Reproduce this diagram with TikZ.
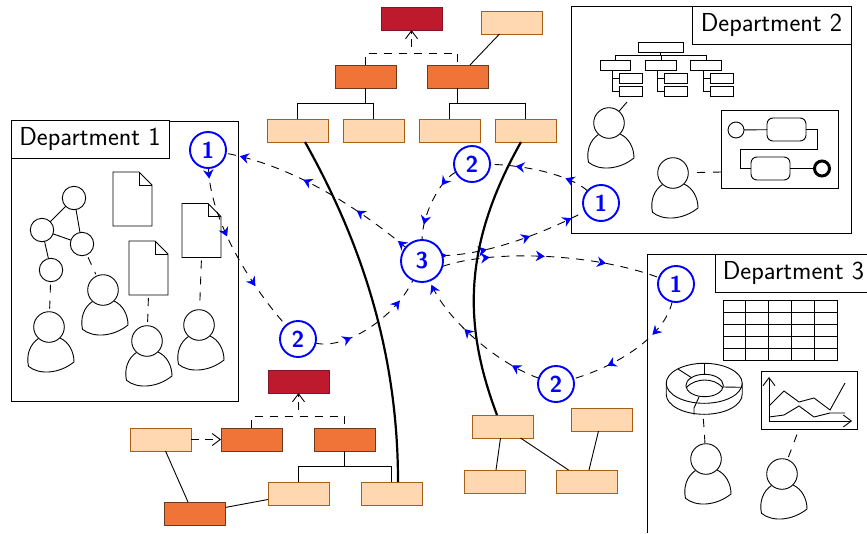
\documentclass[tikz,border=0pt]{standalone}
\usetikzlibrary{arrows.meta,decorations.markings,backgrounds}
\definecolor{peachfill}{HTML}{FFD8B2}
\definecolor{peachedge}{HTML}{A85F14}
\definecolor{orangefill}{HTML}{F07438}
\definecolor{orangeedge}{HTML}{6E3A1E}
\definecolor{redfill}{HTML}{BE1A2E}
\definecolor{rededge}{HTML}{8A1030}
\tikzset{
  base/.style={inner sep=0pt,outer sep=0pt,line width=.9pt},
  bx/.style={base,draw,minimum width=61pt,minimum height=23pt},
  peach/.style={bx,fill=peachfill,draw=peachedge},
  orng/.style={bx,fill=orangefill,draw=orangeedge},
  crim/.style={bx,fill=redfill,draw=rededge},
  deptlabel/.style={base,draw,fill=white,font=\fontsize{26}{30}\selectfont\sffamily,minimum height=38pt},
  badge/.style={base,circle,draw=blue,fill=white,text=blue,line width=1.9pt,minimum size=36pt,font=\fontsize{23}{26}\selectfont\sffamily\bfseries},
  badgebig/.style={badge,minimum size=42pt},
  head/.style={base,circle,draw,fill=white,minimum size=30.6pt},
  ln/.style={line width=.9pt},
  tie/.style={ln,dash pattern=on 8pt off 8pt,shorten <=3pt,shorten >=2pt},
  dashtree/.style={ln,dash pattern=on 8pt off 7pt},
  openhead/.style={-{Straight Barb[length=8pt,width=12pt,line width=.9pt]}},
  thickcurve/.style={line width=2.2pt},
  gnode/.style={base,circle,draw,fill=white,minimum size=23.4pt},
  docshape/.style={base,minimum width=39pt,minimum height=54pt},
  orgbox/.style={base,draw,fill=white},
  flow/.style={ln,dash pattern=on 8pt off 7pt},
  tipat/.style={postaction={decorate,decoration={markings,mark=at position #1 with {\arrow{Stealth[length=9pt,width=10.5pt,inset=3pt,color=blue,fill=blue]}}}}},
}
\newcommand\person[3]{%
  \node[head] (#1) at (#2,#3) {};
  \draw[ln,shift={(#1.center)}] (-10.5,11.5) .. controls (-19,17) and (-23,28) .. (-20.5,39.3)
    .. controls (-10,48) and (10,47) .. (25,35) .. controls (25,25) and (20,15) .. (11,11);}
\newcommand\docu[3]{%
  \node[docshape] (#1) at (#2,#3) {};
  \draw[ln] (#1.north west) -- ([xshift=-13pt]#1.north east) -- ([yshift=-13pt]#1.north east)
    -- (#1.south east) -- (#1.south west) -- cycle;
  \draw[ln] ([xshift=-13pt]#1.north east) -- ++(0,13) -- ([yshift=-13pt]#1.north east);}
\begin{document}
\begin{tikzpicture}[x=1pt,y=-1pt]
\useasboundingbox (0,0) rectangle (867,533);

% departments
\node[base,draw,minimum width=227pt,minimum height=280pt] (dA) at (124.5,261) {};
\node[deptlabel,minimum width=158pt] (dAl) at (90,139.5) {Department 1};
\node[base,draw,minimum width=280pt,minimum height=227pt] (dB) at (711,119.5) {};
\node[deptlabel,minimum width=159pt] (dBl) at (771.5,25) {Department 2};
\draw[ln] (867,254) -- (647,254) -- (647,533);
\node[deptlabel,minimum width=156pt] (dCl) at (793.5,273) {Department 3};

% top tree
\node[crim] (tred) at (411.5,18.5) {};
\node[peach] (tp) at (512,22.5) {};
\node[orng] (to1) at (365.5,76.5) {};
\node[orng] (to2) at (457.5,76.5) {};
\node[peach] (t1) at (297.5,130.5) {};
\node[peach] (t2) at (373.5,130.5) {};
\node[peach] (t3) at (449.5,130.5) {};
\node[peach] (t4) at (525.5,130.5) {};
\draw[dashtree] (to1.north) |- (411.5,53) -| (to2.north);
\coordinate (tjoin) at (411.5,47);
\draw[ln,dash pattern=on 8pt off 5pt,openhead] (tjoin) -- (tred.south);
\draw[ln] ([xshift=-12.5pt]tp.south) -- ([xshift=12.5pt]to2.north);
\draw[ln] (to1.south) -- ++(0,15) -| (t1.north);
\draw[ln] (to1.south) -- ++(0,15) -| (t2.north);
\draw[ln] (to2.south) -- ++(0,15) -| (t3.north);
\draw[ln] (to2.south) -- ++(0,15) -| (t4.north);

% bottom tree
\node[crim] (bred) at (298.5,381.5) {};
\node[peach] (bp) at (160.5,439.5) {};
\node[orng] (bo1) at (251.5,439.5) {};
\node[orng] (bo2) at (344.5,439.5) {};
\node[peach] (b3) at (298.5,493.5) {};
\node[peach] (b4) at (391.5,493.5) {};
\node[orng] (bo3) at (194.5,513.5) {};
\draw[dashtree] (bo1.north) |- (298,416) -| (bo2.north);
\coordinate (bjoin) at (298.5,410);
\draw[ln,dash pattern=on 8pt off 5pt,openhead] (bjoin) -- (bred.south);
\draw[ln,dash pattern=on 8pt off 6pt,openhead] (bp.east) -- (bo1.west);
\draw[ln] ([xshift=5pt]bp.south) -- ([xshift=-6.5pt]bo3.north);
\draw[ln] ([yshift=6pt]bo3.east) -- ([yshift=-6pt]b3.west);
\draw[ln] (bo2.south) -- ++(0,15) -| (b3.north);
\draw[ln] (bo2.south) -- ++(0,15) -| (b4.north);

% right-bottom group
\node[peach] (r1) at (502.5,426.5) {};
\node[peach] (r2) at (601.5,419.5) {};
\node[peach] (r3) at (494.5,481.5) {};
\node[peach] (r4) at (586.5,481.5) {};
\draw[ln] ([xshift=-2pt]r1.south) -- ([xshift=1.5pt]r3.north);
\draw[ln] ([xshift=18pt]r1.south) -- ([xshift=-18pt]r4.north);
\draw[ln] ([xshift=-3pt]r2.south) -- ([xshift=2.5pt]r4.north);

% thick links
\draw[thickcurve] ([xshift=7.5pt]t1.south) .. controls (360,240) and (398,350) .. ([xshift=6.5pt]b4.north);
\draw[thickcurve] ([xshift=-4.5pt]t4.south) .. controls (460,250) and (465,330) .. ([xshift=-5.5pt]r1.north);

% badges
\node[badge] (a1) at (208,150) {1};
\node[badge] (a2) at (298,339) {2};
\node[badge] (b1) at (601,203) {1};
\node[badge] (b2) at (472,164) {2};
\node[badge] (c1) at (676,284) {1};
\node[badge] (c2) at (556,384) {2};
\node[badgebig] (mid) at (422,261) {3};

\begin{pgfonlayer}{background}
\draw[flow,tipat=.05,tipat=.3,tipat=.6,tipat=.93] (mid) .. controls (355,205) and (290,165) .. (a1);
\draw[flow,tipat=.06,tipat=.4,tipat=.72] (a1) .. controls (210,220) and (250,285) .. (a2);
\draw[flow,tipat=.3,tipat=.8] (a2) .. controls (345,350) and (395,318) .. (mid);
\draw[flow,tipat=.03,tipat=.3,tipat=.6,tipat=.9] (mid.15) .. controls (485,255) and (540,235) .. (b1);
\draw[flow,tipat=.22,tipat=.47,tipat=.75] (mid.-15) .. controls (490,250) and (590,252) .. (c1);
\draw[flow,tipat=.25,tipat=.75] (b1) .. controls (570,175) and (525,165) .. (b2);
\draw[flow,tipat=.25,tipat=.8] (b2) .. controls (440,180) and (422,215) .. (mid);
\draw[flow,tipat=.3,tipat=.72] (c1) .. controls (665,335) and (620,365) .. (c2);
\draw[flow,tipat=.2,tipat=.6,tipat=.97] (c2) .. controls (500,365) and (445,320) .. (mid);
\end{pgfonlayer}

% department 1 content
\node[gnode] (g1) at (74,198) {};
\node[gnode] (g2) at (42,230) {};
\node[gnode] (g3) at (82,244) {};
\node[gnode] (g4) at (51,270) {};
\draw[ln] (g1) -- (g2);
\draw[ln] (g1) -- (g3);
\draw[ln] (g2) -- (g3);
\draw[ln] (g2) -- (g4);
\docu{d1}{132.5}{199}
\docu{d2}{148.5}{268}
\docu{d3}{201.5}{230.5}
\person{p1}{49}{327}
\person{p2}{103}{290}
\person{p3}{147}{341}
\person{p4}{199}{325}
\draw[tie] (g4) -- (p1);
\draw[tie] (g3) -- (p2);
\draw[tie] (d2.south) -- (p3);
\draw[tie] (d3.south) -- (p4);

% department 2 content
\node[orgbox,minimum width=45pt,minimum height=10pt] (o0) at (660.5,47) {};
\foreach \n/\cx/\sx/\lx in {1/615.5/630.5/612.7,2/661/676/657.7,3/706/721.5/703}{
  \node[orgbox,minimum width=30.5pt,minimum height=10pt] (om\n) at (\cx,65.5) {};
  \node[orgbox,minimum width=23pt,minimum height=10pt] (oa\n) at (\sx,78) {};
  \node[orgbox,minimum width=23pt,minimum height=10pt] (ob\n) at (\sx,91) {};
  \draw[ln] (\lx,70.5) |- (oa\n.west);
  \draw[ln] (\lx,70.5) |- (ob\n.west);
  \draw[ln] (o0.south) -- (660.5,55.7) -| (om\n.north);
}
\person{p5}{609}{123}
\person{p6}{673}{173}
\coordinate (orgfoot) at (627,102);
\draw[ln] (orgfoot) -- (p5);
\node[base,draw,minimum width=117pt,minimum height=78pt] (proc) at (779.5,149) {};
\node[base,circle,draw,fill=white,minimum size=16pt] (ps) at (736,130) {};
\node[base,draw,rounded corners=6pt,minimum width=39pt,minimum height=23pt] (pt1) at (786.5,129.5) {};
\node[base,draw,rounded corners=6pt,minimum width=39pt,minimum height=23pt] (pt2) at (770.5,168.5) {};
\node[base,circle,draw,line width=3pt,minimum size=15pt] (pe) at (822,168.5) {};
\draw[ln] (ps) -- (pt1);
\draw[ln] (pt1.east) -- ++(11,0) -- ++(0,19.5) -- ++(-77,0) |- (pt2.west);
\draw[ln] (pt2) -- (pe);
\coordinate (procleft) at (721,172);
\draw[tie,shorten <=0pt,shorten >=6pt] (procleft) -- (p6);

% department 3 content
\draw[ln] (723,300) rectangle (837,360);
\foreach \k in {1,2,3,4}{
  \draw[ln] (723+\k*22.8,300) -- (723+\k*22.8,360);
  \draw[ln] (723,300+\k*12) -- (837,300+\k*12);
}
\coordinate (donutfoot) at (703,413);
\draw[ln] (704.2,383.3) ellipse [x radius=38pt,y radius=20pt];
\draw[ln] (666.2,383.3) -- (666.2,394.3) arc [start angle=180,end angle=360,x radius=38pt,y radius=20pt] -- (742.2,383.3);
\draw[ln] (704.6,385.5) ellipse [x radius=18.7pt,y radius=11.2pt];
\draw[ln] (686,388) .. controls (691,382) and (699,380) .. (704.6,380) .. controls (711,380) and (718,382) .. (723,388);
\draw[ln] (704.7,363.3) -- (704.7,374.3);
\draw[ln] (678,369) -- (692,378);
\draw[ln] (723,387) -- (742,387.3);
\draw[ln] (699,397) -- (694,408) -- (694,414.5);
\node[base,draw,minimum width=96pt,minimum height=58pt] (chart) at (809,400) {};
\draw[ln,{Straight Barb[length=8pt,width=12pt,line width=.9pt]}-{Straight Barb[length=8pt,width=12pt,line width=.9pt]}] (769,377) -- (769,421) -- (852,421);
\draw[ln] (769,406) -- (784,391) -- (799,402) -- (814,398) -- (830,410) -- (845,383);
\draw[ln] (769,417) -- (784,415) -- (799,406) -- (814,417) -- (830,413) -- (845,413);
\person{p7}{706}{459}
\person{p8}{782}{474}
\draw[tie,shorten <=6pt,shorten >=0pt] (donutfoot) -- (p7);
\draw[tie,shorten <=6pt,shorten >=0pt] ([xshift=-10pt]chart.south) -- (p8);
\end{tikzpicture}
\end{document}
